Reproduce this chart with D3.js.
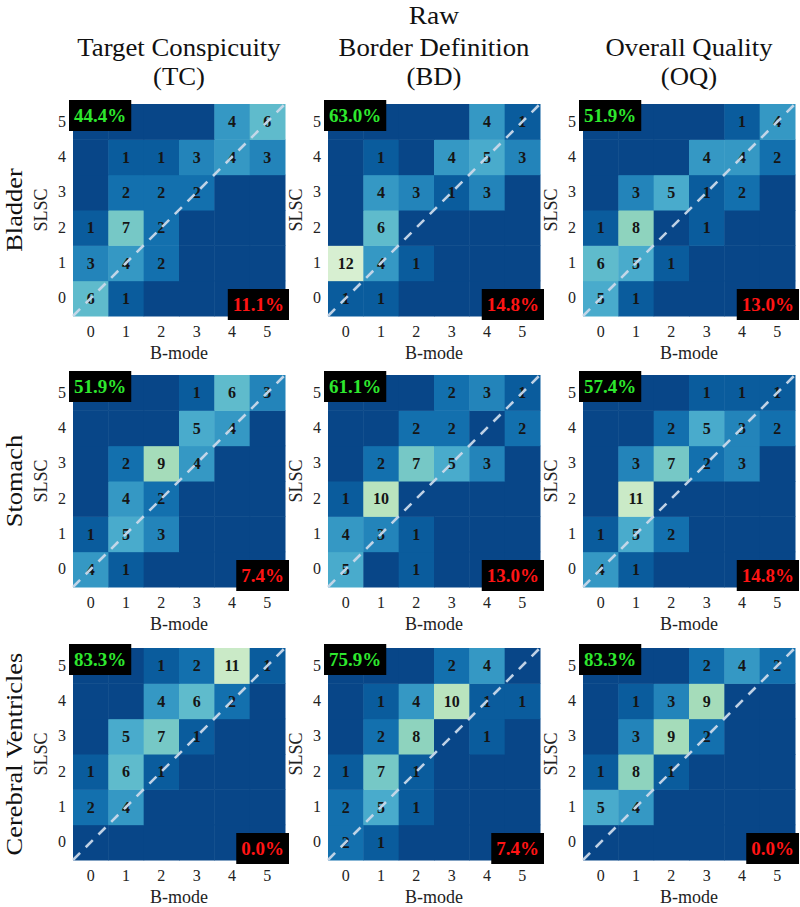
<!DOCTYPE html>
<html>
<head>
<meta charset="utf-8">
<script src="https://cdn.jsdelivr.net/npm/d3@7"></script>
<style>
  html, body { margin: 0; padding: 0; background: #fff; }
  svg { display: block; }
  text { font-family: "Liberation Serif", "DejaVu Serif", serif; }
</style>
</head>
<body>
<svg id="chart" width="800" height="907"></svg>
<script>
// ---------------- DATA ----------------
const mainTitle = "Raw";
const criteria = ["Target Conspicuity", "Border Definition", "Overall Quality"];
const criteriaAbbr = ["(TC)", "(BD)", "(OQ)"];
const organs = ["Bladder", "Stomach", "Cerebral Ventricles"];
const scoreTicks = [0, 1, 2, 3, 4, 5];
const xAxisLabel = "B-mode";
const yAxisLabel = "SLSC";

// each matrix: rows = SLSC score 0..5, columns = B-mode score 0..5
const bladderTC = [
  [6, 1, 0, 0, 0, 0],
  [3, 4, 2, 0, 0, 0],
  [1, 7, 2, 0, 0, 0],
  [0, 2, 2, 2, 0, 0],
  [0, 1, 1, 3, 4, 3],
  [0, 0, 0, 0, 4, 6]
];
const bladderBD = [
  [1, 1, 0, 0, 0, 0],
  [12, 4, 1, 0, 0, 0],
  [0, 6, 0, 0, 0, 0],
  [0, 4, 3, 1, 3, 0],
  [0, 1, 0, 4, 5, 3],
  [0, 0, 0, 0, 4, 1]
];
const bladderOQ = [
  [5, 1, 0, 0, 0, 0],
  [6, 5, 1, 0, 0, 0],
  [1, 8, 0, 1, 0, 0],
  [0, 3, 5, 1, 2, 0],
  [0, 0, 0, 4, 4, 2],
  [0, 0, 0, 0, 1, 4]
];
const stomachTC = [
  [4, 1, 0, 0, 0, 0],
  [1, 5, 3, 0, 0, 0],
  [0, 4, 2, 0, 0, 0],
  [0, 2, 9, 4, 0, 0],
  [0, 0, 0, 5, 4, 0],
  [0, 0, 0, 1, 6, 3]
];
const stomachBD = [
  [5, 0, 1, 0, 0, 0],
  [4, 3, 1, 0, 0, 0],
  [1, 10, 0, 0, 0, 0],
  [0, 2, 7, 5, 3, 0],
  [0, 0, 2, 2, 0, 2],
  [0, 0, 0, 2, 3, 1]
];
const stomachOQ = [
  [4, 1, 0, 0, 0, 0],
  [1, 5, 2, 0, 0, 0],
  [0, 11, 0, 0, 0, 0],
  [0, 3, 7, 2, 3, 0],
  [0, 0, 2, 5, 3, 2],
  [0, 0, 0, 1, 1, 1]
];
const ventriclesTC = [
  [0, 0, 0, 0, 0, 0],
  [2, 4, 0, 0, 0, 0],
  [1, 6, 1, 0, 0, 0],
  [0, 5, 7, 1, 0, 0],
  [0, 0, 4, 6, 2, 0],
  [0, 0, 1, 2, 11, 1]
];
const ventriclesBD = [
  [2, 1, 0, 0, 0, 0],
  [2, 5, 1, 0, 0, 0],
  [1, 7, 1, 0, 0, 0],
  [0, 2, 8, 0, 1, 0],
  [0, 1, 4, 10, 1, 1],
  [0, 0, 0, 2, 4, 0]
];
const ventriclesOQ = [
  [0, 0, 0, 0, 0, 0],
  [5, 4, 0, 0, 0, 0],
  [1, 8, 1, 0, 0, 0],
  [0, 3, 9, 2, 0, 0],
  [0, 1, 3, 9, 0, 0],
  [0, 0, 0, 2, 4, 2]
];
// percentage labels (SLSC better = green, B-mode better = red)
const slscBetterPct = [["44.4%", "63.0%", "51.9%"], ["51.9%", "61.1%", "57.4%"], ["83.3%", "75.9%", "83.3%"]];
const bmodeBetterPct = [["11.1%", "14.8%", "13.0%"], ["7.4%", "13.0%", "14.8%"], ["0.0%", "7.4%", "0.0%"]];

const matrices = [
  [bladderTC, bladderBD, bladderOQ],
  [stomachTC, stomachBD, stomachOQ],
  [ventriclesTC, ventriclesBD, ventriclesOQ]
];

// ---------------- LAYOUT ----------------
const svg = d3.select("#chart");
const panelSize = 212;
const colX = [73, 328, 583];
const rowY = [104, 375, 648];
const serif = '"Liberation Serif", "DejaVu Serif", serif';

const color = v => d3.interpolateGnBu(d3.scaleLinear().domain([0, 12]).range([0.98, 0.18])(v));

// Titles
svg.append("text").attr("transform", "translate(434,24) scale(1.06,1)").attr("text-anchor", "middle")
  .attr("font-size", 26).attr("fill", "#111").text(mainTitle);

criteria.forEach((c, j) => {
  const cx = colX[j] + panelSize / 2;
  svg.append("text").attr("transform", `translate(${cx},56) scale(1.07,1)`).attr("text-anchor", "middle")
    .attr("font-size", 25).attr("fill", "#111").text(c);
  svg.append("text").attr("transform", `translate(${cx},85) scale(1.07,1)`).attr("text-anchor", "middle")
    .attr("font-size", 25).attr("fill", "#111").text(criteriaAbbr[j]);
});

organs.forEach((o, i) => {
  const cy = rowY[i] + panelSize / 2;
  svg.append("text").attr("transform", `translate(22,${cy}) rotate(-90) scale(1.15,1)`)
    .attr("text-anchor", "middle").attr("font-size", 23).attr("fill", "#111").text(o);
});

const x = d3.scaleBand().domain(scoreTicks).range([0, panelSize]);
const y = d3.scaleBand().domain(scoreTicks).range([panelSize, 0]);

matrices.forEach((row, i) => {
  row.forEach((mat, j) => {
    const g = svg.append("g").attr("transform", `translate(${colX[j]},${rowY[i]})`);
    const cells = [];
    mat.forEach((r, s) => r.forEach((v, b) => cells.push({ s, b, v })));

    g.selectAll("rect.cell").data(cells).join("rect")
      .attr("class", "cell")
      .attr("x", d => x(d.b)).attr("y", d => y(d.s))
      .attr("width", x.bandwidth() + 0.5).attr("height", y.bandwidth() + 0.5)
      .attr("fill", d => color(d.v));

    g.selectAll("text.val").data(cells.filter(d => d.v > 0)).join("text")
      .attr("class", "val")
      .attr("x", d => x(d.b) + x.bandwidth() / 2)
      .attr("y", d => y(d.s) + y.bandwidth() / 2)
      .attr("dy", "0.36em").attr("text-anchor", "middle")
      .attr("font-size", 16).attr("font-weight", "bold").attr("fill", "#151515")
      .text(d => d.v);

    // diagonal
    g.append("line")
      .attr("x1", x.range()[0]).attr("y1", y.range()[0])
      .attr("x2", x.range()[1]).attr("y2", y.range()[1])
      .attr("stroke", "#c9d9ea").attr("stroke-width", 2.6)
      .attr("stroke-dasharray", "10,8").attr("opacity", 0.95);

    // axes
    const xAxis = g.append("g").attr("transform", `translate(0,${panelSize})`)
      .call(d3.axisBottom(x).tickSize(0).tickPadding(10));
    xAxis.select(".domain").remove();
    xAxis.selectAll("text").attr("font-family", serif).attr("font-size", 16).attr("fill", "#222");

    const yAxis = g.append("g").call(d3.axisLeft(y).tickSize(0).tickPadding(7));
    yAxis.select(".domain").remove();
    yAxis.selectAll("text").attr("font-family", serif).attr("font-size", 16).attr("fill", "#222");

    g.append("text").attr("x", panelSize / 2).attr("y", panelSize + 43)
      .attr("text-anchor", "middle").attr("font-size", 18).attr("fill", "#222").text(xAxisLabel);
    g.append("text").attr("transform", `translate(-32,${panelSize / 2}) rotate(-90)`)
      .attr("dy", "0.35em").attr("text-anchor", "middle").attr("font-size", 18).attr("fill", "#222").text(yAxisLabel);

    // percentage boxes
    const tl = g.append("g");
    const tlText = tl.append("text").attr("font-size", 19).attr("font-weight", "bold")
      .attr("fill", "#2ee82e").text(slscBetterPct[i][j]);
    const tlw = tlText.node().getComputedTextLength();
    tl.insert("rect", "text").attr("x", -4).attr("y", -4)
      .attr("width", tlw + 10).attr("height", 31).attr("fill", "#000");
    tlText.attr("x", 1).attr("y", 18);

    const br = g.append("g");
    const brText = br.append("text").attr("font-size", 19).attr("font-weight", "bold")
      .attr("fill", "#ff1414").text(bmodeBetterPct[i][j]);
    const brw = brText.node().getComputedTextLength();
    br.insert("rect", "text").attr("x", panelSize + 4 - (brw + 10)).attr("y", panelSize + 4 - 31)
      .attr("width", brw + 10).attr("height", 31).attr("fill", "#000");
    brText.attr("x", panelSize + 4 - (brw + 5)).attr("y", panelSize + 4 - 31 + 22);
  });
});
</script>
</body>
</html>
